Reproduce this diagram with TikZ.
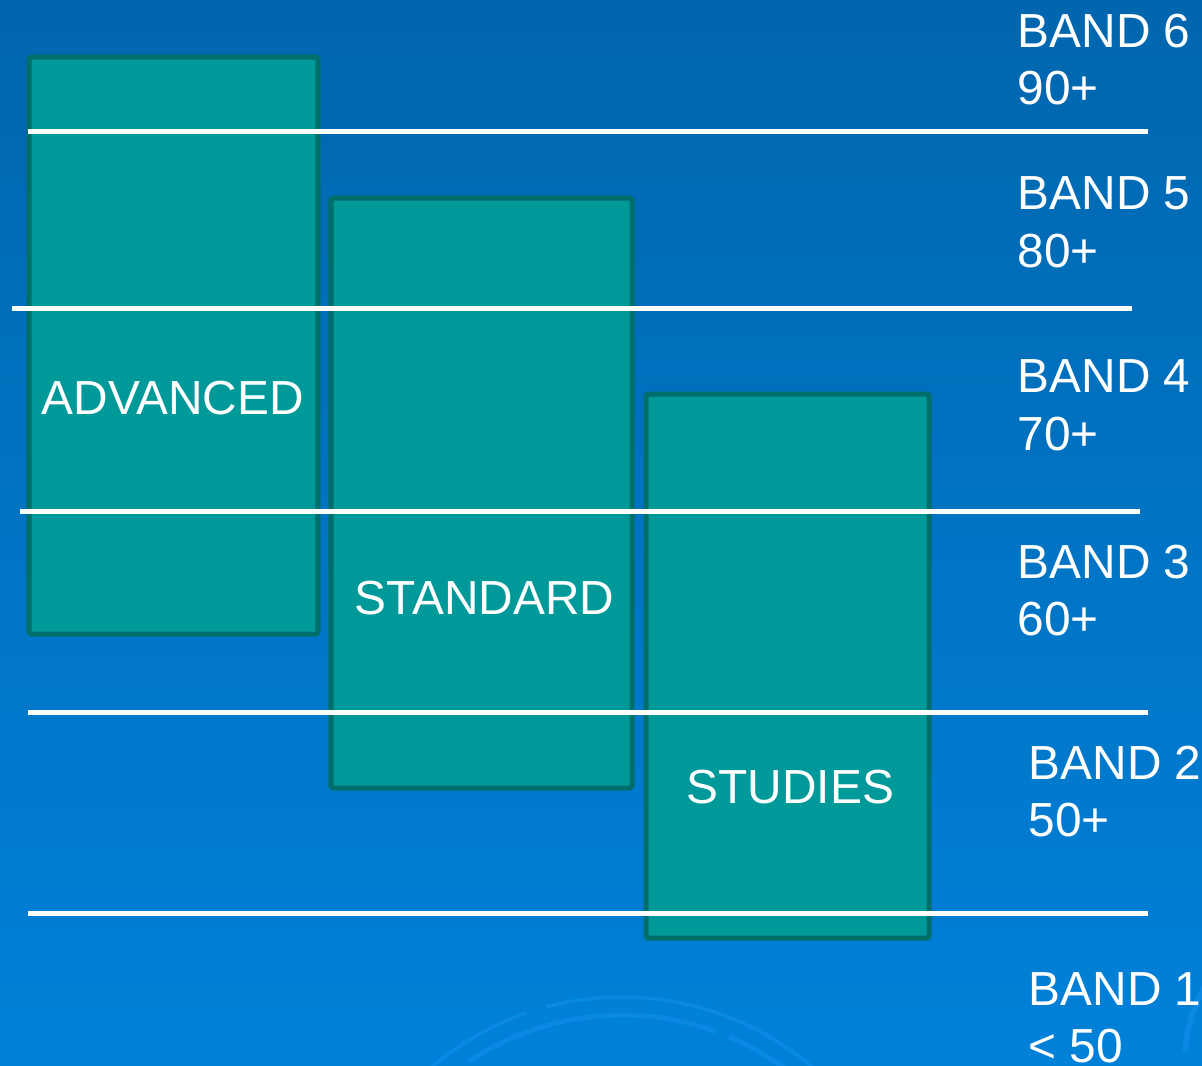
\documentclass[tikz,border=0pt]{standalone}
\usepackage{fontspec}
\setmainfont{Liberation Sans}
\definecolor{bgtop}{HTML}{0066AE}
\definecolor{bgbot}{HTML}{0081D9}
\definecolor{boxfill}{HTML}{009999}
\definecolor{boxedge}{HTML}{006F6B}
\definecolor{arcblue}{HTML}{0A88E4}
\begin{document}
\begin{tikzpicture}[x=0.01cm,y=-0.01cm,
  bandbox/.style={draw=boxedge,fill=boxfill,line width=0.05cm,rounded corners=0.5pt},
  bandline/.style={draw=white,line width=0.05cm},
  lbl/.style={text=white,font=\fontsize{13.6pt}{16pt}\selectfont,anchor=base west,inner sep=0pt},
  deco/.style={draw=arcblue,line width=0.035cm}]
\useasboundingbox (0,0) rectangle (1202,1066);
\shade[top color=bgtop,bottom color=bgbot] (0,0) rectangle (1202,1066);
% faint decorative arcs
\begin{scope}
\clip (0,0) rectangle (1202,1066);
\coordinate (ac) at (622,1290);
\draw[deco] (ac) ++(229:293) arc[start angle=229,end angle=251,radius=293];
\draw[deco] (ac) ++(255:293) arc[start angle=255,end angle=312,radius=293];
\draw[deco,line width=0.05cm] (ac) ++(236:275) arc[start angle=236,end angle=290,radius=275];
\draw[deco,line width=0.05cm] (ac) ++(293:275) arc[start angle=293,end angle=308,radius=275];
\coordinate (rc) at (1330,1060);
\draw[deco,line width=0.06cm] (rc) ++(183:145) arc[start angle=183,end angle=215,radius=145];
\end{scope}
% boxes
\draw[bandbox] (29,57) rectangle (318,634);
\draw[bandbox] (331,198) rectangle (632,788);
\draw[bandbox] (646,394) rectangle (929,938);
% lines
\coordinate (l1a) at (28,131); \coordinate (l1b) at (1148,131);
\coordinate (l2a) at (12,308); \coordinate (l2b) at (1132,308);
\coordinate (l3a) at (20,511); \coordinate (l3b) at (1140,511);
\coordinate (l4a) at (28,712); \coordinate (l4b) at (1148,712);
\coordinate (l5a) at (28,913); \coordinate (l5b) at (1148,913);
\draw[bandline] (l1a) -- (l1b);
\draw[bandline] (l2a) -- (l2b);
\draw[bandline] (l3a) -- (l3b);
\draw[bandline] (l4a) -- (l4b);
\draw[bandline] (l5a) -- (l5b);
% box labels
\node[lbl] (adv) at (41,414) {ADVANCED};
\node[lbl] (std) at (354,614) {STANDARD};
\node[lbl] (stu) at (686,803) {STUDIES};
% band labels
\node[lbl] (b6) at (1017,47) {BAND 6};
\node[lbl] (b6s) at (1017,104) {90+};
\node[lbl] (b5) at (1017,209) {BAND 5};
\node[lbl] (b5s) at (1017,267) {80+};
\node[lbl] (b4) at (1017,392) {BAND 4};
\node[lbl] (b4s) at (1017,450) {70+};
\node[lbl] (b3) at (1017,578) {BAND 3};
\node[lbl] (b3s) at (1017,635) {60+};
\node[lbl] (b2) at (1028,779) {BAND 2};
\node[lbl] (b2s) at (1028,836) {50+};
\node[lbl] (b1) at (1028,1005) {BAND 1};
\node[lbl] (b1s) at (1028,1062) {< 50};
\end{tikzpicture}
\end{document}
